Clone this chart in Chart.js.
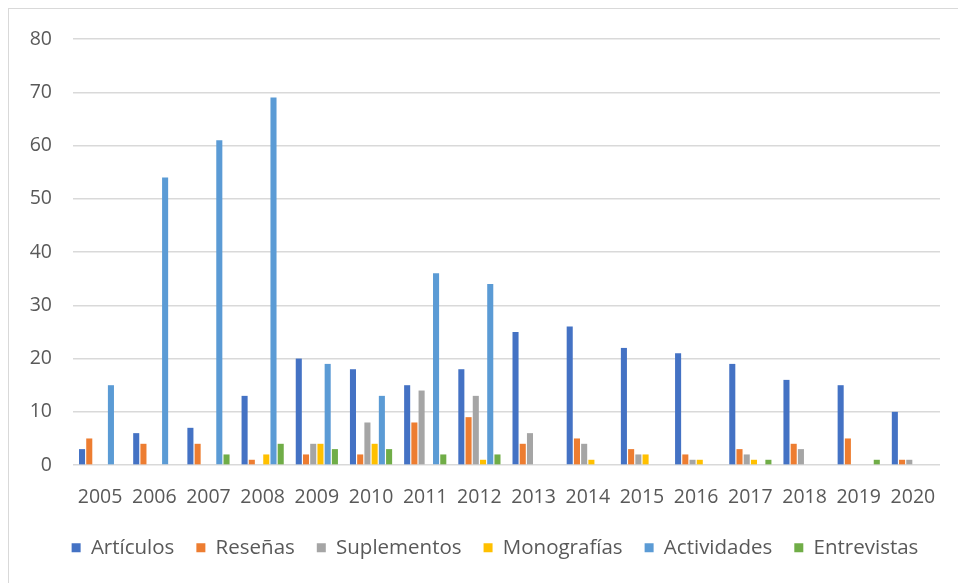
<!DOCTYPE html>
<html>
<head>
<meta charset="utf-8">
<script src="https://cdn.jsdelivr.net/npm/chart.js@4"></script>
<style>
  html, body { margin: 0; padding: 0; background: #ffffff; }
  #wrap { position: relative; width: 958px; height: 583px; overflow: hidden; }
  #frame { position: absolute; left: 8px; top: 8px; width: 980px; height: 600px;
           border-left: 1.5px solid #d9d9d9; border-top: 1.5px solid #d9d9d9; box-sizing: border-box; }
  canvas { position: absolute; left: 0; top: 0; }
</style>
</head>
<body>
<div id="wrap">
  <div id="frame"></div>
  <canvas id="c" width="958" height="583"></canvas>
</div>
<script>
// Publicaciones por año y tipo
const years = ['2005','2006','2007','2008','2009','2010','2011','2012','2013','2014','2015','2016','2017','2018','2019','2020'];
const articulos   = [3, 6, 7, 13, 20, 18, 15, 18, 25, 26, 22, 21, 19, 16, 15, 10];
const resenas     = [5, 4, 4, 1, 2, 2, 8, 9, 4, 5, 3, 2, 3, 4, 5, 1];
const suplementos = [0, 0, 0, 0, 4, 8, 14, 13, 6, 4, 2, 1, 2, 3, 0, 1];
const monografias = [0, 0, 0, 2, 4, 4, 0, 1, 0, 1, 2, 1, 1, 0, 0, 0];
const actividades = [15, 54, 61, 69, 19, 13, 36, 34, 0, 0, 0, 0, 0, 0, 0, 0];
const entrevistas = [0, 0, 2, 4, 3, 3, 2, 2, 0, 0, 0, 0, 1, 0, 1, 0];
const yTicks = [0, 10, 20, 30, 40, 50, 60, 70, 80];

const FONT = "'Open Sans', 'Liberation Sans', sans-serif";
const TXT = '#595959';

const series = [
  ['Artículos', articulos, '#4472C4'],
  ['Reseñas', resenas, '#ED7D31'],
  ['Suplementos', suplementos, '#A5A5A5'],
  ['Monografías', monografias, '#FFC000'],
  ['Actividades', actividades, '#5B9BD5'],
  ['Entrevistas', entrevistas, '#70AD47']
];

// Nudge the legend a little right of the canvas centre
const legendShift = {
  id: 'legendShift',
  afterLayout(chart) {
    const lg = chart.legend;
    if (!lg) return;
    const dx = (chart.width / 2 + 16) - (lg.left + lg.right) / 2;
    lg.left += dx;
    lg.right += dx;
  }
};

new Chart(document.getElementById('c'), {
  type: 'bar',
  data: {
    labels: years,
    datasets: series.map(([label, data, color]) => ({
      label, data,
      backgroundColor: color,
      borderWidth: 0,
      barPercentage: 0.84,
      categoryPercentage: 0.8
    }))
  },
  options: {
    responsive: false,
    animation: false,
    events: [],
    layout: { padding: { left: 0, right: 18, top: 39, bottom: 15 } },
    scales: {
      x: {
        grid: { display: false },
        border: { display: false },
        afterFit: (s) => { s.height -= 7; },
        ticks: { color: TXT, font: { family: FONT, size: 19.5 }, padding: 13, maxRotation: 0, autoSkip: false }
      },
      y: {
        min: 0, max: 80,
        afterBuildTicks: (s) => { s.ticks = yTicks.map(v => ({ value: v })); },
        afterFit: (s) => { s.width = 73; },
        grid: { color: '#d9d9d9', lineWidth: 1.5, drawTicks: false },
        border: { display: false },
        ticks: { color: TXT, font: { family: FONT, size: 19.5 }, padding: 21 }
      }
    },
    plugins: {
      tooltip: { enabled: false },
      legend: {
        position: 'bottom',
        labels: {
          color: TXT,
          font: { family: FONT, size: 20.5 },
          boxWidth: 9, boxHeight: 9,
          padding: 22
        }
      }
    }
  },
  plugins: [legendShift]
});
</script>
</body>
</html>
